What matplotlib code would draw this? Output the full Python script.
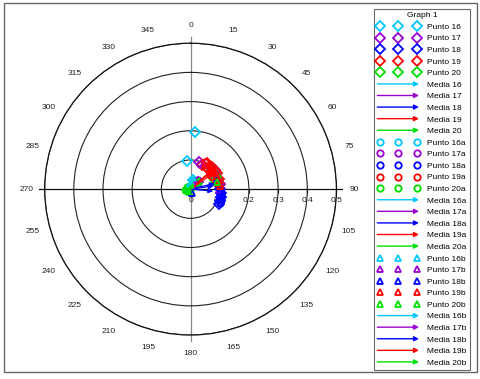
import matplotlib
matplotlib.use('Agg')
import matplotlib.pyplot as plt
import numpy as np
from matplotlib.lines import Line2D
from matplotlib.patches import FancyArrowPatch, Rectangle
from matplotlib.legend_handler import HandlerBase

plt.rcParams['font.family'] = ['Liberation Sans', 'DejaVu Sans']

# ---------------- data (angles in degrees, radius) ----------------
groups = ['16', '17', '18', '19', '20']
group_colors = ['#00C8FF', '#9A00D0', '#0000FF', '#FF0000', '#00E000']

# set "" (diamonds)
theta16 = [352, 4, 17, 30, 48]
r16 = [0.097, 0.195, 0.032, 0.017, 0.098]
theta17 = [18, 44, 52, 80]
r17 = [0.096, 0.035, 0.106, 0.104]
theta18 = [82, 90, 98, 105, 112, 118]
r18 = [0.100, 0.102, 0.104, 0.107, 0.110, 0.112]
theta19 = [25, 32, 38, 45, 52, 58, 64, 70, 76]
r19 = [0.092, 0.104, 0.090, 0.106, 0.093, 0.105, 0.090, 0.104, 0.094]
theta20 = [250, 280, 70, 40]
r20 = [0.012, 0.008, 0.090, 0.020]

# set "a" (circles)
theta16a = [12, 25, 56, 5]
r16a = [0.030, 0.020, 0.097, 0.012]
theta17a = [40, 60, 88, 20]
r17a = [0.040, 0.100, 0.100, 0.090]
theta18a = [85, 94, 100, 108, 60, 115]
r18a = [0.098, 0.100, 0.105, 0.108, 0.100, 0.112]
theta19a = [28, 35, 42, 48, 55, 62, 68, 74, 80]
r19a = [0.104, 0.091, 0.107, 0.094, 0.106, 0.089, 0.103, 0.092, 0.102]
theta20a = [200, 300, 65, 30]
r20a = [0.010, 0.015, 0.100, 0.025]

# set "b" (triangles)
theta16b = [20, 35, 62, 300]
r16b = [0.035, 0.028, 0.100, 0.012]
theta17b = [47, 76, 92, 30]
r17b = [0.033, 0.104, 0.098, 0.095]
theta18b = [88, 96, 103, 110, 70, 160]
r18b = [0.100, 0.103, 0.106, 0.110, 0.098, 0.013]
theta19b = [30, 37, 44, 50, 57, 63, 72, 78, 84]
r19b = [0.097, 0.108, 0.098, 0.088, 0.102, 0.096, 0.101, 0.097, 0.100]
theta20b = [260, 230, 75, 50, 45]
r20b = [0.015, 0.010, 0.095, 0.030, 0.040]

# mean vectors (Media) per set, order 16..20
media_theta = [25, 44, 77, 50, 40]
media_r = [0.030, 0.035, 0.085, 0.095, 0.020]
media_theta_a = [15, 40, 82, 48, 60]
media_r_a = [0.035, 0.040, 0.080, 0.104, 0.015]
media_theta_b = [35, 50, 95, 55, 30]
media_r_b = [0.025, 0.030, 0.078, 0.090, 0.025]

theta_ticks = list(range(0, 360, 15))
r_ticks = [0, 0.1, 0.2, 0.3, 0.4, 0.5]
r_tick_labels = ['0', '0.1', '0.2', '0.3', '0.4', '0.5']

sets = [
    ('', 'D', [(theta16, r16), (theta17, r17), (theta18, r18), (theta19, r19), (theta20, r20)],
     media_theta, media_r),
    ('a', 'o', [(theta16a, r16a), (theta17a, r17a), (theta18a, r18a), (theta19a, r19a), (theta20a, r20a)],
     media_theta_a, media_r_a),
    ('b', '^', [(theta16b, r16b), (theta17b, r17b), (theta18b, r18b), (theta19b, r19b), (theta20b, r20b)],
     media_theta_b, media_r_b),
]


class ArrowHandler(HandlerBase):
    def create_artists(self, legend, orig_handle, xdescent, ydescent,
                       width, height, fontsize, trans):
        y = (height - ydescent) / 2.0
        arr = FancyArrowPatch((-xdescent, y), (width - xdescent, y),
                              arrowstyle='-|>', mutation_scale=7,
                              color=orig_handle.get_color(), lw=1,
                              shrinkA=0, shrinkB=0, transform=trans)
        return [arr]


fig = plt.figure(figsize=(4.8, 3.79), dpi=100)
ax = fig.add_axes([0.093, 0.116, 0.608, 0.770], projection='polar')
ax.set_theta_zero_location('N')
ax.set_theta_direction(-1)
ax.set_rlim(0, 0.5)
ax.set_rticks(r_ticks[1:])
ax.set_yticklabels([])
ax.yaxis.grid(True, color='#222222', lw=0.8)
ax.xaxis.grid(False)
ax.spines['polar'].set_color('#111111')
ax.spines['polar'].set_linewidth(0.9)
ax.set_xticks(np.deg2rad(theta_ticks))
ax.set_xticklabels([str(t) for t in theta_ticks], fontsize=6, color='#222222')
ax.set_xticks(np.deg2rad(np.arange(0, 360, 5)), minor=True)
ax.tick_params(axis='x', which='major', direction='out', length=4, width=0.8, pad=2)
ax.tick_params(axis='x', which='minor', direction='out', length=2.5, width=0.8)

# axis lines
for deg, col in [(0, '#888888'), (180, '#888888'), (90, '#111111'), (270, '#111111')]:
    ax.plot([np.deg2rad(deg)] * 2, [0, 0.52], color=col, lw=0.9, clip_on=False, zorder=1)

# radial ticks and labels along 90 deg axis
ax.plot([np.pi / 2] * len(r_ticks), r_ticks, ls='none', marker=3, ms=3,
        color='#111111', mew=0.8, clip_on=False)
for rv, lab in zip(r_ticks, r_tick_labels):
    ax.annotate(lab, xy=(np.pi / 2, rv), xytext=(0, -6), textcoords='offset points',
                ha='center', va='top', fontsize=6, color='#222222')

handles, labels, arrow_proxies = [], [], []
for suffix, marker, pts, mth, mr in sets:
    for g, c, (th, rr) in zip(groups, group_colors, pts):
        h, = ax.plot(np.deg2rad(th), rr, ls='none', marker=marker, ms=4.6,
                     mfc='none', mec=c, mew=1.3, zorder=3)
        handles.append(h)
        labels.append('Punto ' + g + suffix)
    for g, c, t, rv in zip(groups, group_colors, mth, mr):
        ax.annotate('', xy=(np.deg2rad(t), rv), xytext=(0, 0),
                    arrowprops=dict(arrowstyle='-|>', color=c, lw=0.9,
                                    mutation_scale=7, shrinkA=0, shrinkB=0),
                    zorder=4)
        p = Line2D([], [], color=c)
        arrow_proxies.append(p)
        handles.append(p)
        labels.append('Media ' + g + suffix)

leg = fig.legend(handles, labels, handler_map={p: ArrowHandler() for p in arrow_proxies},
                 loc='upper left', bbox_to_anchor=(374 / 480, 1 - 9 / 379),
                 bbox_transform=fig.transFigure, title='Graph 1', fontsize=6,
                 title_fontsize=6, numpoints=3, frameon=True, fancybox=False,
                 edgecolor='#444444', borderaxespad=0, handlelength=5,
                 handletextpad=1.0, labelspacing=0.45, borderpad=0.4)
leg.get_frame().set_linewidth(0.8)

fig.patches.append(Rectangle((4 / 480, 7 / 379), 473 / 480, 369 / 379,
                             transform=fig.transFigure, fill=False,
                             edgecolor='#666666', lw=1))

fig.savefig('out.png', dpi=100)
